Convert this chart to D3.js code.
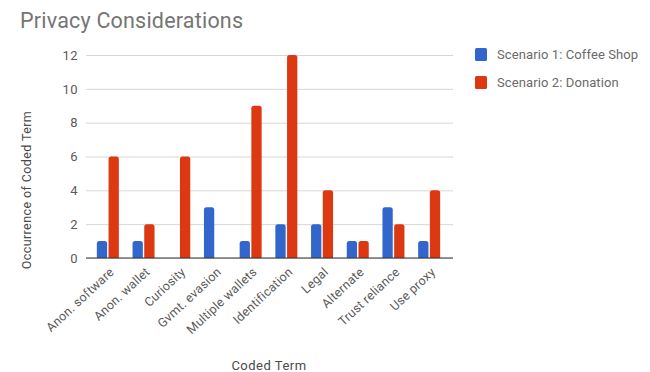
<!DOCTYPE html>
<html>
<head>
<meta charset="utf-8">
<script src="https://cdn.jsdelivr.net/npm/d3@7"></script>
<style>
  html, body { margin: 0; padding: 0; background: #fff; }
  svg { display: block; font-family: Roboto, "Noto Sans", sans-serif; }
</style>
</head>
<body>
<svg id="chart" width="650" height="372"></svg>
<script>
// Coded privacy terms and their occurrence counts per scenario
const categories = ["Anon. software", "Anon. wallet", "Curiosity", "Gvmt. evasion", "Multiple wallets",
                    "Identification", "Legal", "Alternate", "Trust reliance", "Use proxy"];
const coffeeShop = [1, 1, 0, 3, 1, 2, 2, 1, 3, 1];
const donation   = [6, 2, 6, 0, 9, 12, 4, 1, 2, 4];
const seriesNames = ["Scenario 1: Coffee Shop", "Scenario 2: Donation"];
const seriesColors = ["#3366cc", "#dc3912"];
const yTicks = [0, 2, 4, 6, 8, 10, 12];

const svg = d3.select("#chart");

const plot = { left: 86, right: 453, top: 55, bottom: 258 };

const x = d3.scaleBand()
  .domain(categories)
  .range([90, 447])
  .paddingInner(0)
  .paddingOuter(0);

const xSeries = d3.scaleBand()
  .domain([0, 1])
  .range([x.bandwidth() / 2 - 11, x.bandwidth() / 2 + 11])
  .paddingInner(0.12);

const y = d3.scaleLinear()
  .domain([0, 12])
  .range([plot.bottom, plot.top]);

// Title
svg.append("text")
  .attr("x", 20)
  .attr("y", 28)
  .attr("font-size", 21.5)
  .attr("letter-spacing", 0.2)
  .attr("fill", "#757575")
  .text("Privacy Considerations");

// Horizontal gridlines and y tick labels
const yAxis = d3.axisLeft(y)
  .tickValues(yTicks)
  .tickSize(-(plot.right - plot.left))
  .tickPadding(8)
  .tickFormat(d3.format("d"));

const yg = svg.append("g")
  .attr("transform", `translate(${plot.left},0)`)
  .call(yAxis);
yg.select(".domain").remove();
yg.selectAll(".tick line").attr("stroke", "#d6d6d6").attr("stroke-width", 1);
yg.selectAll(".tick text")
  .attr("font-size", 13)
  .attr("letter-spacing", 0.4)
  .attr("fill", "#5a5a5a")
  .attr("font-family", "Roboto, sans-serif");

// Bars with slightly rounded tops
const series = [coffeeShop, donation];
function barPath(x0, w, yTop, yBase, r) {
  const h = yBase - yTop;
  if (h <= 0) return "";
  const rr = Math.min(r, h, w / 2);
  return `M${x0},${yBase}V${yTop + rr}Q${x0},${yTop} ${x0 + rr},${yTop}` +
         `H${x0 + w - rr}Q${x0 + w},${yTop} ${x0 + w},${yTop + rr}V${yBase}Z`;
}

series.forEach((vals, si) => {
  svg.append("g")
    .selectAll("path")
    .data(categories.map((c, i) => ({ c, v: vals[i] })))
    .join("path")
    .attr("fill", seriesColors[si])
    .attr("d", d => barPath(x(d.c) + xSeries(si), xSeries.bandwidth(), y(d.v), y(0), 2.5));
});

// Baseline
svg.append("line")
  .attr("x1", plot.left).attr("x2", plot.right)
  .attr("y1", y(0)).attr("y2", y(0))
  .attr("stroke", "#333").attr("stroke-width", 1.2);

// Rotated category labels
svg.append("g")
  .selectAll("text")
  .data(categories)
  .join("text")
  .attr("transform", d => `translate(${x(d) + x.bandwidth() / 2 + 7},${plot.bottom + 15}) rotate(-43)`)
  .attr("text-anchor", "end")
  .attr("font-size", 12.5)
  .attr("letter-spacing", 0.2)
  .attr("fill", "#5a5a5a")
  .text(d => d);

// Axis titles
svg.append("text")
  .attr("transform", "translate(31,190) rotate(-90)")
  .attr("text-anchor", "middle")
  .attr("font-size", 12.5)
  .attr("letter-spacing", 0.4)
  .attr("fill", "#4a4a4a")
  .text("Occurrence of Coded Term");

svg.append("text")
  .attr("x", 269)
  .attr("y", 370)
  .attr("text-anchor", "middle")
  .attr("font-size", 13)
  .attr("letter-spacing", 0.5)
  .attr("fill", "#4a4a4a")
  .text("Coded Term");

// Legend
const legend = svg.append("g");
seriesNames.forEach((name, i) => {
  const gy = 48 + i * 28;
  legend.append("rect")
    .attr("x", 475).attr("y", gy)
    .attr("width", 12).attr("height", 13)
    .attr("rx", 1.5)
    .attr("fill", seriesColors[i]);
  legend.append("text")
    .attr("x", 497).attr("y", gy + 11)
    .attr("font-size", 13)
    .attr("letter-spacing", 0.1)
    .attr("fill", "#6a6a6a")
    .text(name);
});
</script>
</body>
</html>
